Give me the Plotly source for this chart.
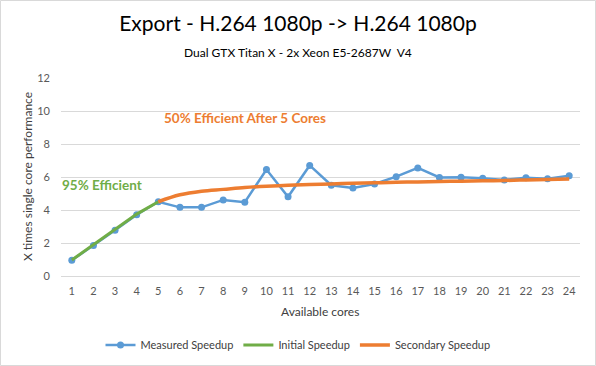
import plotly.graph_objects as go

cores = list(range(1, 25))
measured = [0.95, 1.85, 2.77, 3.71, 4.5, 4.16, 4.16, 4.61, 4.47, 6.45, 4.8, 6.7,
            5.5, 5.33, 5.58, 6.02, 6.55, 5.97, 5.98, 5.92, 5.82, 5.96, 5.9, 6.08]
initial_cores = [1, 2, 3, 4, 5]
initial = [0.97, 1.9, 2.82, 3.75, 4.5]
secondary_cores = list(range(5, 25))
secondary = [4.5, 4.92, 5.14, 5.25, 5.36, 5.44, 5.5, 5.55, 5.58, 5.62, 5.65, 5.68,
             5.7, 5.73, 5.75, 5.77, 5.79, 5.82, 5.85, 5.88]

font = "Lato, 'Open Sans', sans-serif"
W, H = 596, 366
L, R, T, B = 61, 16, 78, 90
PW, PH = W - L - R, H - T - B


def px_x(p):
    return (p - L) / PW


def px_y(p):
    return (H - B - p) / PH


fig = go.Figure()
fig.add_trace(go.Scatter(x=cores, y=measured, name="Measured Speedup", mode="lines+markers",
                         line=dict(color="#5b9bd5", width=2.5), marker=dict(size=7, color="#5b9bd5")))
fig.add_trace(go.Scatter(x=initial_cores, y=initial, name="Initial Speedup", mode="lines",
                         line=dict(color="#70ad47", width=3)))
fig.add_trace(go.Scatter(x=secondary_cores, y=secondary, name="Secondary Speedup", mode="lines",
                         line=dict(color="#ed7d31", width=3.5, shape="spline")))

fig.update_layout(
    width=W, height=H,
    margin=dict(l=L, r=R, t=T, b=B, autoexpand=False),
    paper_bgcolor="white", plot_bgcolor="white",
    font=dict(family=font, size=11, color="#595959"),
    title=dict(text="Export - H.264 1080p -> H.264 1080p", x=0.5, xanchor="center", xref="container",
               yref="container", y=1 - 24 / H, yanchor="middle", font=dict(size=21, color="black")),
    xaxis=dict(range=[0.5, 24.5], tickmode="array", tickvals=cores, ticktext=[str(c) for c in cores],
               showgrid=False, showline=True, linecolor="#d9d9d9", ticks="", zeroline=False,
               ticklabelstandoff=5, automargin=False),
    yaxis=dict(range=[0, 12], tickvals=[0, 2, 4, 6, 8, 10, 12], showgrid=True, gridcolor="#d9d9d9",
               zeroline=False, ticks="", ticklabelstandoff=10, automargin=False),
    legend=dict(orientation="h", xref="container", yref="container", x=0.5, xanchor="center",
                y=1 - 345 / H, yanchor="middle", font=dict(size=11, color="#404040")),
    showlegend=True,
)
ann = dict(showarrow=False, xanchor="center", yanchor="middle")
fig.add_annotation(text="Dual GTX Titan X - 2x Xeon E5-2687W  V4", xref="paper", yref="paper",
                   x=px_x(298), y=px_y(52), font=dict(size=12, color="black"), **ann)
fig.add_annotation(text="Available cores", xref="paper", yref="paper",
                   x=px_x(320), y=px_y(311), font=dict(size=12, color="#404040"), **ann)
fig.add_annotation(text="X times single core performance", xref="paper", yref="paper", textangle=-90,
                   x=px_x(27), y=px_y(177), font=dict(size=12, color="#404040"), **ann)
fig.add_annotation(text="<b>50% Efficient After 5 Cores</b>", x=9.0, y=9.56,
                   font=dict(size=13.5, color="#ed7d31"), **ann)
fig.add_annotation(text="<b>95% Efficient</b>", x=2.4, y=5.5,
                   font=dict(size=13.5, color="#70ad47"), **ann)
fig.add_shape(type="rect", xref="paper", yref="paper",
              x0=px_x(0.5), x1=px_x(W - 0.5), y0=px_y(H - 0.5), y1=px_y(0.5),
              line=dict(color="#d9d9d9", width=1))
fig.write_html("out.html", config={"displayModeBar": False},
               post_script="document.body.style.margin='0';")
